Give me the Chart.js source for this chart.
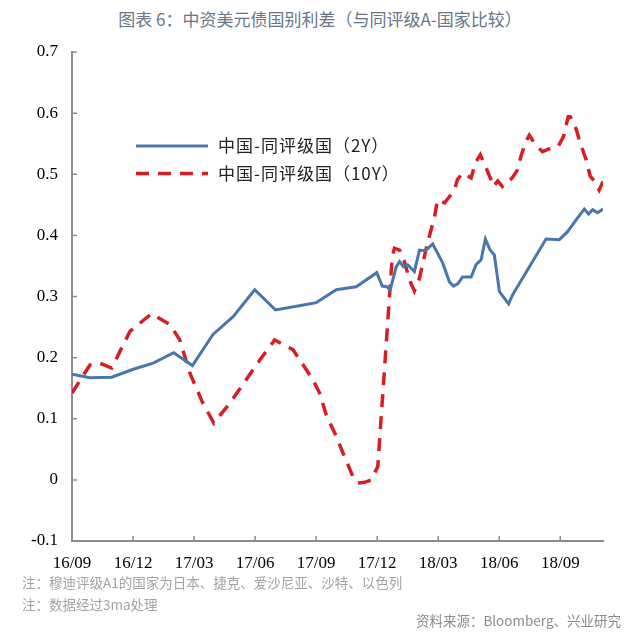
<!DOCTYPE html>
<html>
<head>
<meta charset="utf-8">
<script src="https://cdn.jsdelivr.net/npm/chart.js@4.4.1/dist/chart.umd.min.js"></script>
<style>
    body { margin: 0; background: #fff; width: 640px; height: 635px; position: relative; overflow: hidden; font-family: "Noto Sans CJK SC", sans-serif; }
    #spreadChart { position: absolute; left: 0; top: 0; }
    .title { position: absolute; top: 6px; left: 0; width: 640px; text-align: center; font-size: 17px; color: #687787; }
    .note { position: absolute; left: 22px; font-size: 13.5px; color: #a3a3a3; }
    .source { position: absolute; right: 19px; font-size: 13.5px; color: #8a8a8a; }
</style>
</head>
<body>
<div class="title">图表 6：中资美元债国别利差（与同评级A-国家比较）</div>
<canvas id="spreadChart" width="640" height="635"></canvas>
<div class="note" style="top:572px">注：穆迪评级A1的国家为日本、捷克、爱沙尼亚、沙特、以色列</div>
<div class="note" style="top:594px">注：数据经过3ma处理</div>
<div class="source" style="top:610px">资料来源：Bloomberg、兴业研究</div>
<script>
// label sumbu x (tiap 3 bulan)
const tickLabels = ["16/09", "16/12", "17/03", "17/06", "17/09", "17/12", "18/03", "18/06", "18/09"];

// posisi dalam bulan sejak 16/09
const months2Y = [0, 0.88, 1.95, 3.01, 3.99, 5.0, 5.92, 6.93, 7.92, 8.98, 10.0, 11.03, 12.01, 12.99, 13.97,
    14.98, 15.25, 15.47, 15.64, 15.94, 16.1, 16.29, 16.5, 16.83, 17.08, 17.37, 17.73, 18.22, 18.55, 18.75,
    18.97, 19.2, 19.62, 19.86, 20.11, 20.32, 20.55, 20.76, 21.01, 21.46, 21.66, 23.3, 23.95, 24.36, 24.77,
    25.18, 25.39, 25.59, 25.83, 26.1];
const spread2Y = [0.173, 0.167, 0.168, 0.181, 0.191, 0.208, 0.187, 0.238, 0.267, 0.311, 0.278, 0.284, 0.290, 0.311, 0.316,
    0.339, 0.317, 0.316, 0.311, 0.349, 0.357, 0.349, 0.352, 0.341, 0.376, 0.375, 0.386, 0.355, 0.324, 0.317,
    0.321, 0.332, 0.332, 0.352, 0.360, 0.394, 0.376, 0.368, 0.308, 0.288, 0.303, 0.394, 0.393, 0.406, 0.425,
    0.443, 0.435, 0.442, 0.437, 0.443];

const months10Y = [0, 0.88, 1.37, 1.95, 2.85, 3.91, 4.81, 5.3, 5.79, 6.44, 6.97, 7.75, 9.23, 9.96, 10.86,
    11.84, 12.17, 12.5, 12.99, 13.32, 13.81, 14.05, 14.38, 14.71, 15.03, 15.74, 15.85, 16.1, 16.34, 16.59,
    16.83, 17.08, 17.47, 17.82, 17.96, 18.31, 18.8, 18.94, 19.19, 19.62, 19.83, 20.07, 20.27, 20.56, 20.71,
    20.93, 21.15, 21.64, 21.89, 22.09, 22.33, 22.48, 22.72, 23.12, 23.56, 23.9, 24.15, 24.39, 24.49, 24.79,
    24.98, 25.28, 25.47, 25.67, 25.91, 26.1];
const spread10Y = [0.142, 0.188, 0.191, 0.183, 0.243, 0.272, 0.254, 0.229, 0.175, 0.125, 0.093, 0.125, 0.196, 0.229, 0.213,
    0.164, 0.142, 0.106, 0.071, 0.044, 0.005, -0.005, -0.004, 0.0, 0.022, 0.365, 0.379, 0.376, 0.357, 0.327,
    0.309, 0.33, 0.387, 0.43, 0.458, 0.453, 0.474, 0.491, 0.502, 0.494, 0.519, 0.532, 0.517, 0.494, 0.48,
    0.489, 0.48, 0.494, 0.507, 0.532, 0.555, 0.564, 0.551, 0.537, 0.543, 0.546, 0.561, 0.594, 0.594, 0.573,
    0.551, 0.523, 0.497, 0.489, 0.474, 0.488];

const seriesNames = ["中国-同评级国（2Y）", "中国-同评级国（10Y）"];

const axisColor = "#8c8c8c";
const serifFont = { family: "'Liberation Serif', 'Times New Roman', serif", size: 17 };

// tick kecil menghadap ke dalam
const innerTicks = {
    id: "innerTicks",
    afterDraw(chart) {
        const ctx = chart.ctx;
        const area = chart.chartArea;
        ctx.save();
        ctx.strokeStyle = axisColor;
        ctx.lineWidth = 1.5;
        ctx.beginPath();
        chart.scales.x.ticks.forEach((t) => {
            const px = chart.scales.x.getPixelForValue(t.value);
            ctx.moveTo(px, area.bottom);
            ctx.lineTo(px, area.bottom - 5);
        });
        chart.scales.y.ticks.forEach((t) => {
            const py = chart.scales.y.getPixelForValue(t.value);
            ctx.moveTo(area.left, py);
            ctx.lineTo(area.left + 5, py);
        });
        ctx.stroke();
        ctx.restore();
    },
};

// legenda di dalam area grafik
const innerLegend = {
    id: "innerLegend",
    afterDraw(chart) {
        const ctx = chart.ctx;
        const area = chart.chartArea;
        ctx.save();
        chart.data.datasets.forEach((ds, i) => {
            const x0 = area.left + 64;
            const y = area.top + 94 + i * 27.5;
            ctx.strokeStyle = ds.borderColor;
            ctx.lineWidth = ds.borderWidth;
            ctx.setLineDash(ds.borderDash || []);
            ctx.beginPath();
            ctx.moveTo(x0, y);
            ctx.lineTo(x0 + 72, y);
            ctx.stroke();
            ctx.setLineDash([]);
            ctx.fillStyle = "#222";
            ctx.font = "17px 'Noto Sans CJK SC'";
            ctx.letterSpacing = "1px";
            ctx.textBaseline = "middle";
            ctx.fillText(ds.label, x0 + 82, y);
        });
        ctx.restore();
    },
};

new Chart(document.getElementById("spreadChart"), {
    type: "line",
    data: {
        datasets: [
            {
                label: seriesNames[0],
                data: months2Y.map((m, i) => ({ x: m, y: spread2Y[i] })),
                borderColor: "#4a77ab",
                borderWidth: 3,
                pointRadius: 0,
                tension: 0,
            },
            {
                label: seriesNames[1],
                data: months10Y.map((m, i) => ({ x: m, y: spread10Y[i] })),
                borderColor: "#d81e25",
                borderWidth: 3.5,
                borderDash: [13, 9],
                pointRadius: 0,
                tension: 0,
            },
        ],
    },
    options: {
        responsive: false,
        animation: false,
        layout: { padding: { top: 52, right: 37, left: 0, bottom: 0 } },
        plugins: {
            legend: { display: false },
            tooltip: { enabled: false },
        },
        scales: {
            x: {
                type: "linear",
                min: 0,
                max: 26.1,
                afterBuildTicks: (scale) => {
                    scale.ticks = tickLabels.map((_, i) => ({ value: i * 3 }));
                },
                afterFit: (scale) => {
                    scale.height = 94;
                },
                ticks: {
                    callback: (v) => tickLabels[Math.round(v / 3)],
                    font: serifFont,
                    color: "#000",
                    maxRotation: 0,
                    autoSkip: false,
                    padding: 12,
                },
                grid: { display: false, drawTicks: false },
                border: { color: axisColor, width: 2 },
            },
            y: {
                min: -0.1,
                max: 0.7,
                afterFit: (scale) => {
                    scale.width = 72;
                },
                ticks: {
                    stepSize: 0.1,
                    callback: (v) => String(Math.round(v * 10) / 10),
                    font: serifFont,
                    color: "#000",
                    padding: 14,
                },
                grid: { display: false, drawTicks: false },
                border: { color: axisColor, width: 2 },
            },
        },
    },
    plugins: [innerTicks, innerLegend],
});
</script>
</body>
</html>
